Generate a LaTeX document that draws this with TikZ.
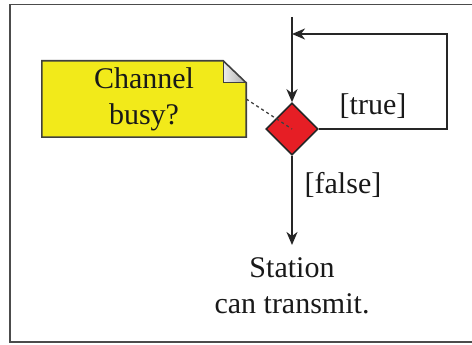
\documentclass[tikz,border=0pt]{standalone}
\usepackage{fontspec}
\setmainfont{Liberation Serif}
\usetikzlibrary{arrows.meta,shapes.geometric}
\definecolor{notey}{HTML}{F2EA1A}
\definecolor{decred}{HTML}{E61E25}
\tikzset{
  flow/.style={draw=black!85,line width=2.2pt,-{Stealth[length=13pt,width=11pt,inset=4pt]}},
  decision/.style={diamond,draw=black!85,line width=1.6pt,fill=decred,
    minimum width=52pt,minimum height=52pt,inner sep=0pt,aspect=1},
  lbl/.style={font=\fontsize{30}{36}\selectfont,text=black!90,inner sep=0pt}
}
\begin{document}
\begin{tikzpicture}[x=1pt,y=-1pt]
\useasboundingbox (0,0) rectangle (472,345);
% frame
\draw[line width=1.8pt,draw=black!70] (472,4.5) -- (10,4.5) -- (10,342) -- (472,342);

\node[decision] (busy) at (292,129) {};
\coordinate (start) at (292,17);
\coordinate (loop) at (447,34);
\node[lbl,align=center,anchor=north] (station) at (292,257) {Station\\can transmit.};
\node[lbl] (true) at (373,106) {[true]};
\node[lbl] (false) at (343,185) {[false]};

% note
\node[minimum width=204pt,minimum height=76pt,inner sep=0pt] (note) at (144,99) {};
\fill[notey] (note.north west) -- ([xshift=-23pt]note.north east) -- ([yshift=-22pt]note.north east)
  -- (note.south east) -- (note.south west) -- cycle;
\shade[left color=gray!15,right color=gray!65] ([xshift=-23pt]note.north east)
  -- ([xshift=-23pt,yshift=-22pt]note.north east) -- ([yshift=-22pt]note.north east) -- cycle;
\draw[line width=1.6pt,draw=black!75,line join=miter] (note.north west) -- ([xshift=-23pt]note.north east)
  -- ([yshift=-22pt]note.north east) -- (note.south east) -- (note.south west) -- cycle;
\draw[line width=1pt,draw=black!75] ([xshift=-23pt]note.north east)
  -- ([xshift=-23pt,yshift=-22pt]note.north east) -- ([yshift=-22pt]note.north east);
\node[lbl,align=center] (notetext) at (note.center) {Channel\\busy?};

% flows
\draw[flow] (start) -- (busy.north);
\draw[flow] (busy.east) -| (loop) -- (loop -| busy);
\draw[flow,shorten >=12pt] (busy.south) -- (station.north);
\draw[dashed,line width=1.3pt,draw=black!75] (note.east) -- (busy.center);
\end{tikzpicture}
\end{document}
